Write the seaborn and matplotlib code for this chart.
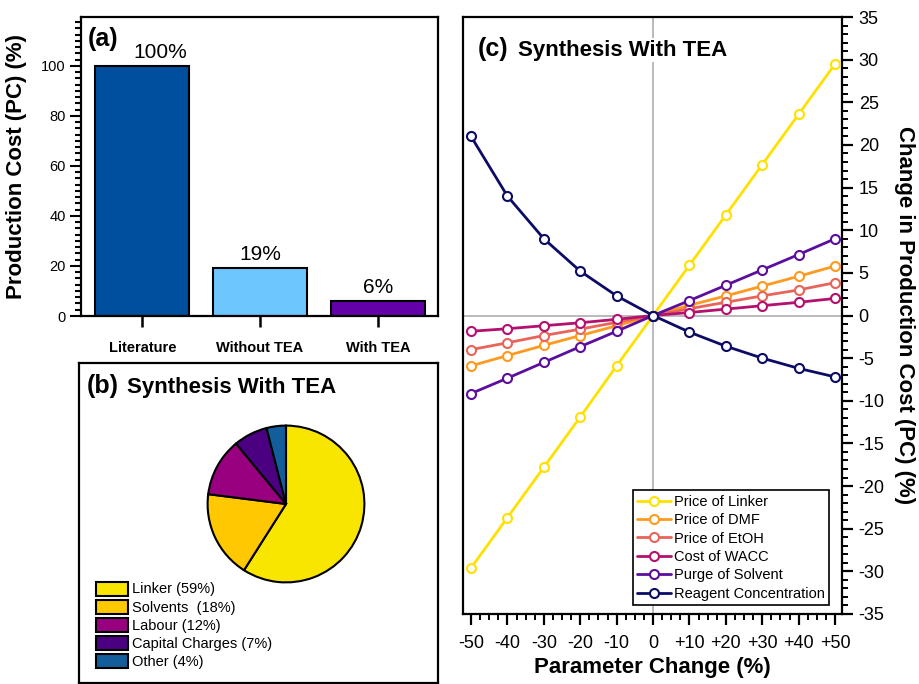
import matplotlib.pyplot as plt
from matplotlib.ticker import MultipleLocator
import pandas as pd
import seaborn as sns

# (a) production cost of the three routes
routes = ["Literature", "Without TEA", "With TEA"]
route_cost = [100, 19, 6]
route_colours = ["#004F9F", "#6EC6FF", "#6400A8"]

# (b) cost breakdown, synthesis with TEA
cost_items = ["Linker (59%)", "Solvents  (18%)", "Labour (12%)", "Capital Charges (7%)", "Other (4%)"]
cost_share = [59, 18, 12, 7, 4]
cost_colours = ["#F9E600", "#FFC800", "#990080", "#4B0082", "#135E9A"]

# (c) sensitivity analysis
param_change = [-50, -40, -30, -20, -10, 0, 10, 20, 30, 40, 50]
change_labels = ["-50", "-40", "-30", "-20", "-10", "0", "+10", "+20", "+30", "+40", "+50"]
sens_names = ["Price of Linker", "Price of DMF", "Price of EtOH", "Cost of WACC", "Purge of Solvent", "Reagent Concentration"]
sens_colours = ["#FFE100", "#FF9A20", "#E8645A", "#B4106E", "#5C0E9C", "#0C0C66"]
linker = [-29.6, -23.7, -17.8, -11.9, -5.9, 0, 5.9, 11.8, 17.7, 23.6, 29.5]
dmf = [-5.9, -4.7, -3.5, -2.35, -1.2, 0, 1.2, 2.3, 3.45, 4.6, 5.8]
etoh = [-4.0, -3.2, -2.35, -1.6, -0.8, 0, 0.8, 1.55, 2.3, 3.0, 3.85]
wacc = [-1.85, -1.55, -1.2, -0.85, -0.45, 0, 0.35, 0.75, 1.15, 1.55, 2.0]
purge = [-9.15, -7.35, -5.5, -3.65, -1.85, 0, 1.75, 3.55, 5.35, 7.15, 9.0]
reagent = [21.0, 14.0, 9.0, 5.2, 2.3, 0, -1.95, -3.6, -5.0, -6.2, -7.2]
y_ticks = list(range(-35, 40, 5))

sns.set_style("ticks")
plt.rcParams["font.family"] = ["Liberation Sans", "DejaVu Sans"]
plt.rcParams["axes.unicode_minus"] = False
plt.rcParams["axes.linewidth"] = 1.6
for key in ["text.color", "axes.labelcolor", "axes.edgecolor", "xtick.color", "ytick.color"]:
	plt.rcParams[key] = "black"

fig = plt.figure(figsize = (9.19, 6.84), dpi = 100)

# Panel (a)
ax_a = fig.add_axes([81 / 919, 1 - 316 / 684, 357 / 919, 299 / 684])
bars = pd.DataFrame({ "route": routes, "cost": route_cost })
sns.barplot(data = bars, x = "route", y = "cost", hue = "route", palette = route_colours, legend = False,
	saturation = 1, edgecolor = "black", linewidth = 1.5, width = 0.8, ax = ax_a)
ax_a.set(xlabel = None, ylim = (0, 119.5), xlim = (-0.52, 2.51))
ax_a.set_ylabel("Production Cost (PC) (%)", fontsize = 16, fontweight = "bold", labelpad = 10)
ax_a.yaxis.set_major_locator(MultipleLocator(20))
ax_a.yaxis.set_minor_locator(MultipleLocator(2.5))
ax_a.tick_params(axis = "y", which = "major", length = 8, width = 1.5, labelsize = 10.5, pad = 3)
ax_a.tick_params(axis = "y", which = "minor", length = 4.5, width = 1.5)
ax_a.tick_params(axis = "x", length = 8, width = 1.8, pad = 10)
for lab in ax_a.get_xticklabels():
	lab.set_fontweight("bold")
	lab.set_fontsize(10.5)
for i, p in enumerate(ax_a.patches):
	shift = 0.15 if i == 0 else 0
	ax_a.annotate("%d%%" % route_cost[i], (p.get_x() + p.get_width() / 2 + shift, p.get_height()),
		xytext = (0, 3), textcoords = "offset points", ha = "center", va = "bottom", fontsize = 15)
ax_a.text(0.018, 0.965, "(a)", transform = ax_a.transAxes, fontsize = 18, fontweight = "bold", va = "top")
for s in ax_a.spines.values():
	s.set_visible(True)

# Panel (b)
ax_b = fig.add_axes([79 / 919, 1 / 684, 359 / 919, 320 / 684])
ax_b.set_xticks([])
ax_b.set_yticks([])
ax_b.text(0.022, 0.905, "(b)", transform = ax_b.transAxes, fontsize = 18, fontweight = "bold")
ax_b.text(0.133, 0.905, "Synthesis With TEA", transform = ax_b.transAxes, fontsize = 16, fontweight = "bold")

ax_pie = fig.add_axes([188 / 919, 1 - 602 / 684, 196 / 919, 196 / 684])
wedges, _ = ax_pie.pie(cost_share, colors = cost_colours, startangle = 90, counterclock = False,
	wedgeprops = { "edgecolor": "black", "linewidth": 1.5 })
ax_pie.set_aspect("equal")
ax_b.legend(wedges, cost_items, loc = "lower left", bbox_to_anchor = (0.03, 0.025), frameon = False,
	fontsize = 10.5, handlelength = 2.2, handleheight = 1.1, handletextpad = 0.3, labelspacing = 0.22, borderaxespad = 0)

# Panel (c)
ax_c = fig.add_axes([463 / 919, 1 - 614 / 684, 379 / 919, 597 / 684])
ax_c.axvline(0, color = "#B4B4B4", linewidth = 1.3, zorder = 1)
ax_c.axhline(0, color = "#B4B4B4", linewidth = 1.3, zorder = 1)
for name, vals, col in zip(sens_names, [linker, dmf, etoh, wacc, purge, reagent], sens_colours):
	sns.lineplot(x = param_change, y = vals, color = col, linewidth = 2, marker = "o", markersize = 6.5,
		markerfacecolor = "white", markeredgecolor = col, markeredgewidth = 1.5, label = name, ax = ax_c, zorder = 3)
ax_c.set(xlim = (-52.2, 51.9), ylim = (-35, 35))
ax_c.set_xticks(param_change)
ax_c.set_xticklabels(change_labels)
ax_c.set_yticks(y_ticks)
ax_c.set_yticklabels([str(v) for v in y_ticks])
ax_c.xaxis.set_minor_locator(MultipleLocator(2.5))
ax_c.yaxis.set_minor_locator(MultipleLocator(1))
ax_c.yaxis.tick_right()
ax_c.yaxis.set_label_position("right")
ax_c.tick_params(which = "major", length = 8, width = 1.6, labelsize = 13, pad = 4)
ax_c.tick_params(axis = "x", which = "major", pad = 7)
ax_c.tick_params(which = "minor", length = 4.5, width = 1.4)
ax_c.set_xlabel("Parameter Change (%)", fontsize = 16, fontweight = "bold", labelpad = 4)
ax_c.set_ylabel("Change in Production Cost (PC) (%)", fontsize = 16, fontweight = "bold", rotation = 270, labelpad = 22)
ax_c.text(0.04, 0.935, "(c)", transform = ax_c.transAxes, fontsize = 18, fontweight = "bold",
	bbox = { "facecolor": "white", "edgecolor": "none", "pad": 1 }, zorder = 4)
ax_c.text(0.145, 0.935, "Synthesis With TEA", transform = ax_c.transAxes, fontsize = 16, fontweight = "bold",
	bbox = { "facecolor": "white", "edgecolor": "none", "pad": 1 }, zorder = 4)
leg = ax_c.legend(loc = "lower right", bbox_to_anchor = (0.966, 0.015), borderaxespad = 0, fontsize = 10.5,
	fancybox = False, framealpha = 1, edgecolor = "black", handlelength = 2.3, handletextpad = 0.2,
	labelspacing = 0.3, borderpad = 0.3)
leg.get_frame().set_linewidth(1.2)

plt.savefig("out.png", dpi = 100)
plt.close()
